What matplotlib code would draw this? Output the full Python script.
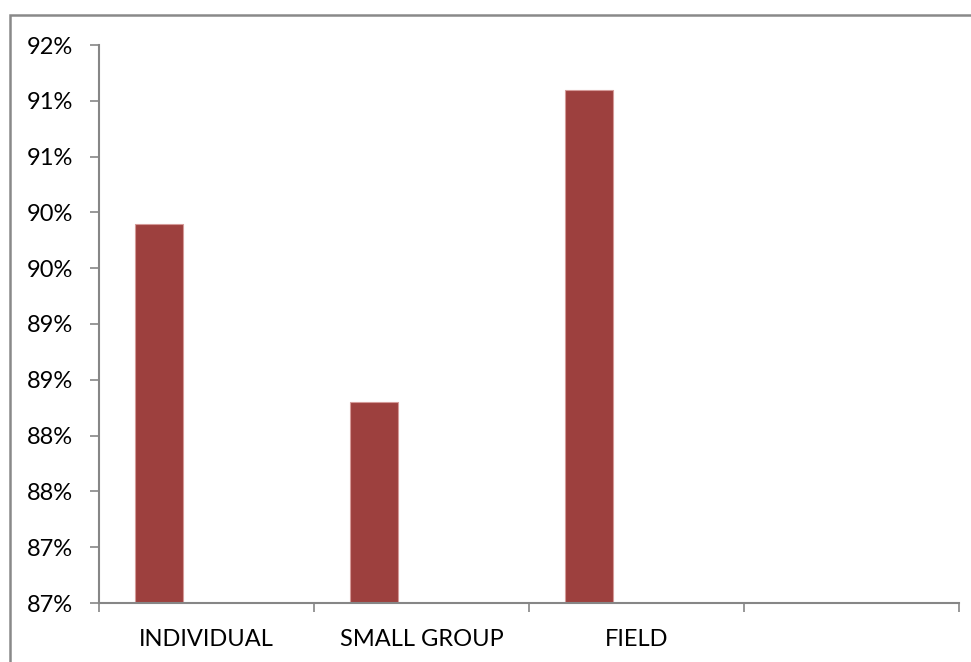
import matplotlib.pyplot as plt
import matplotlib.patches as patches
import numpy as np

categories = ['INDIVIDUAL', 'SMALL GROUP', 'FIELD', '']
values = [90.4, 88.8, 91.6]
ytick_values = [87.0, 87.5, 88.0, 88.5, 89.0, 89.5, 90.0, 90.5, 91.0, 91.5, 92.0]
ytick_labels = ['87%', '87%', '88%', '88%', '89%', '89%', '90%', '90%', '91%', '91%', '92%']

plt.rcParams['font.family'] = ['Lato', 'DejaVu Sans']

fig = plt.figure(figsize=(9.71, 6.62), dpi=100)
ax = fig.add_axes([99 / 971, 59 / 662, 860 / 971, 558 / 662])

# 柱子偏左，和 Excel 三系列簇状图里第一个系列的位置一致
width = 0.223
x = np.arange(len(values))
ax.bar(x - width, values, width=width, bottom=0, color='#9D403E',
       edgecolor='#d49a98', linewidth=0.8)

ax.set_xlim(-0.5, len(categories) - 0.5)
ax.set_ylim(87, 92)

ax.set_yticks(ytick_values)
ax.set_yticklabels(ytick_labels, fontsize=17)
ax.tick_params(axis='y', length=6.5, width=1.2, color='#868686', pad=12)

# 类别标签在中间，刻度线在类别边界
ax.set_xticks(np.arange(len(categories)))
ax.set_xticklabels(categories, fontsize=17)
ax.set_xticks(np.arange(len(categories) + 1) - 0.5, minor=True)
ax.tick_params(axis='x', which='major', length=0, pad=19)
ax.tick_params(axis='x', which='minor', length=6.5, width=1.2, color='#868686')

for side in ['top', 'right']:
    ax.spines[side].set_visible(False)
for side in ['left', 'bottom']:
    ax.spines[side].set_color('#868686')
    ax.spines[side].set_linewidth(1.5)

# 图表外框
fig.patches.append(patches.Rectangle((10 / 971, -0.2), 1.2, 1 - 15 / 662 + 0.2,
                                     transform=fig.transFigure, fill=False,
                                     edgecolor='#898989', linewidth=1.8))

plt.savefig('out.png', dpi=100)
